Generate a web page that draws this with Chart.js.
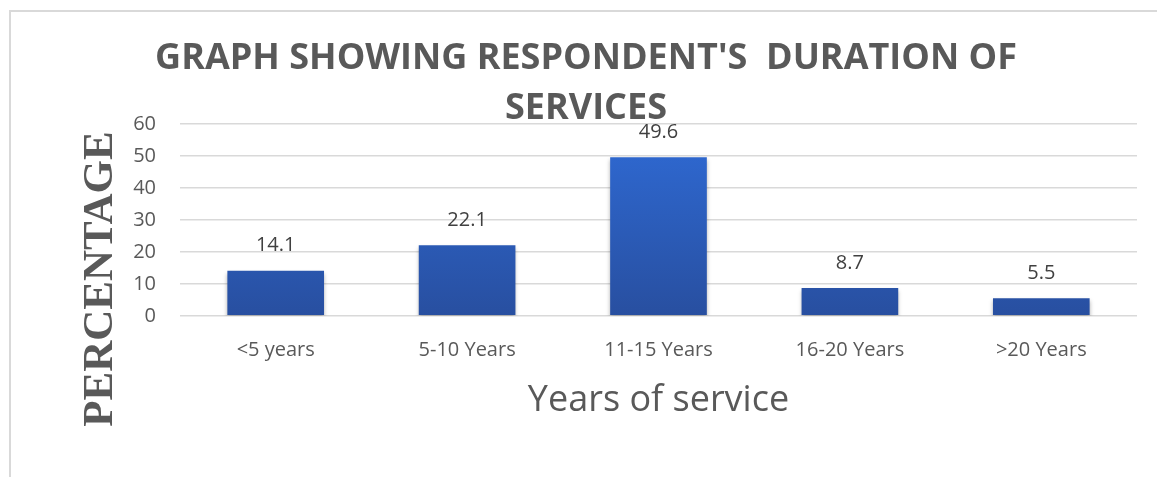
<!DOCTYPE html>
<html lang="en">
<head>
  <meta charset="UTF-8" />
  <title>Duration of services</title>
  <script src="https://cdn.jsdelivr.net/npm/chart.js"></script>
  <style>
    body {
      margin: 0;
      padding: 0;
      background-color: #fff;
      overflow: hidden;
    }
    .frame {
      position: absolute;
      left: 9px;
      top: 10px;
      width: 1160px;
      height: 480px;
      border-left: 2px solid #d9d9d9;
      border-top: 2px solid #d9d9d9;
    }
    .chart-container {
      position: absolute;
      left: 0;
      top: 0;
      width: 1157px;
      height: 477px;
    }
  </style>
</head>
<body>
  <div class="frame"></div>
  <div class="chart-container">
    <canvas id="serviceChart"></canvas>
  </div>

  <script>
    const categories = ['<5 years', '5-10 Years', '11-15 Years', '16-20 Years', '>20 Years'];
    const percentages = [14.1, 22.1, 49.6, 8.7, 5.5];
    const yTicks = [0, 10, 20, 30, 40, 50, 60];

    const textGrey = '#595959';

    // blue gradient, lighter at the top
    function barGradient(context) {
      const area = context.chart.chartArea;
      if (!area) return '#2e67d1';
      const g = context.chart.ctx.createLinearGradient(0, area.top, 0, area.bottom);
      g.addColorStop(0, '#2f6bd6');
      g.addColorStop(1, '#284fa0');
      return g;
    }

    const barShadow = {
      id: 'barShadow',
      beforeDatasetsDraw(chart) {
        const c = chart.ctx;
        c.save();
        c.shadowColor = 'rgba(0,0,0,0.3)';
        c.shadowBlur = 4;
        c.shadowOffsetY = 3;
      },
      afterDatasetsDraw(chart) {
        chart.ctx.restore();
      }
    };

    const valueLabels = {
      id: 'valueLabels',
      afterDatasetsDraw(chart) {
        const c = chart.ctx;
        const meta = chart.getDatasetMeta(0);
        c.save();
        c.fillStyle = '#404040';
        c.font = '20px "Open Sans"';
        c.textAlign = 'center';
        c.textBaseline = 'middle';
        meta.data.forEach((bar, i) => {
          c.fillText(String(percentages[i]), bar.x, bar.y - 25);
        });
        c.restore();
      }
    };

    const yTitle = {
      id: 'yTitle',
      afterDraw(chart) {
        const c = chart.ctx;
        c.save();
        c.translate(101, 279);
        c.rotate(-Math.PI / 2);
        c.fillStyle = textGrey;
        c.font = 'bold 43px "Liberation Serif"';
        c.textAlign = 'center';
        c.textBaseline = 'middle';
        c.fillText('PERCENTAGE', 0, 0);
        c.restore();
      }
    };

    const ctx = document.getElementById('serviceChart').getContext('2d');

    const chart = new Chart(ctx, {
      type: 'bar',
      data: {
        labels: categories,
        datasets: [{
          data: percentages,
          backgroundColor: barGradient,
          categoryPercentage: 1,
          barPercentage: 0.505
        }]
      },
      options: {
        responsive: true,
        maintainAspectRatio: false,
        animation: false,
        layout: {
          padding: { left: 35, right: 20, bottom: 55 }
        },
        plugins: {
          legend: { display: false },
          tooltip: { enabled: false },
          title: {
            display: true,
            text: ["GRAPH SHOWING RESPONDENT'S  DURATION OF", 'SERVICES'],
            color: textGrey,
            font: { family: '"Open Sans"', size: 36, weight: 'bold', lineHeight: 1.39 },
            padding: { top: 34, bottom: -10 }
          }
        },
        scales: {
          x: {
            grid: { display: false, drawTicks: false },
            border: { display: false },
            ticks: {
              color: textGrey,
              font: { family: '"Open Sans"', size: 20 },
              padding: 22
            },
            title: {
              display: true,
              text: 'Years of service',
              color: textGrey,
              font: { family: '"Open Sans"', size: 36 },
              padding: { top: -5, bottom: 0 }
            }
          },
          y: {
            min: 0,
            max: 60,
            afterFit(scale) { scale.width = 145; },
            afterBuildTicks(scale) { scale.ticks = yTicks.map(v => ({ value: v })); },
            grid: { color: '#d9d9d9', lineWidth: 1.5, drawTicks: false },
            border: { display: false },
            ticks: {
              color: textGrey,
              font: { family: '"Open Sans"', size: 20 },
              padding: 24
            }
          }
        }
      },
      plugins: [barShadow, valueLabels, yTitle]
    });
  </script>
</body>
</html>
